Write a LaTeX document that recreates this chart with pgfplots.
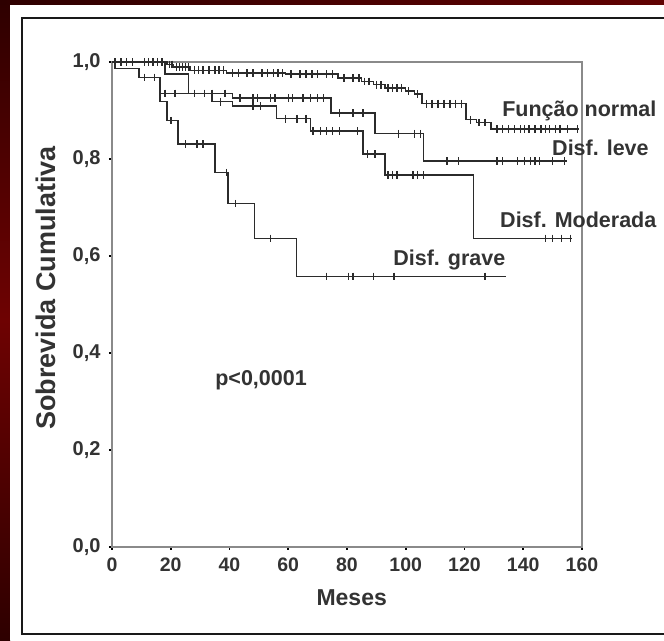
\documentclass[border=0pt]{standalone}
\usepackage{fontspec}
\setmainfont{Liberation Sans}
\usepackage{pgfplots}
\pgfplotsset{compat=1.18}

\definecolor{txt}{HTML}{333333}
\definecolor{crv}{HTML}{2B2B2B}
\definecolor{axg}{HTML}{8A8A8A}
\definecolor{bgdark}{HTML}{2E0000}
\definecolor{bgred}{HTML}{6E0202}

\begin{document}
\begin{tikzpicture}
\useasboundingbox (0pt,0pt) rectangle (664pt,640pt);
% slide background and white panel
\fill[bgdark!50!bgred] (0pt,0pt) rectangle (664pt,640pt);
\shade[top color=bgdark, bottom color=bgdark, middle color=bgred] (0pt,0pt) rectangle (10pt,640pt);
\shade[left color=bgdark, right color=bgred!80!bgdark] (0pt,635pt) rectangle (664pt,640pt);
\fill[white] (10pt,0pt) rectangle (664pt,635pt);
\draw[line width=2.5pt, black!90] (22pt,6pt) rectangle (690pt,622pt);

\begin{axis}[
    at={(112pt,93pt)}, anchor=south west,
    scale only axis, width=470pt, height=485pt,
    xmin=0, xmax=160, ymin=0, ymax=1,
    clip=false,
    axis line style={axg, line width=1.3pt},
    xtick={0,20,...,160},
    ytick={0,0.2,0.4,0.6,0.8,1},
    yticklabels={{0,0},{0,2},{0,4},{0,6},{0,8},{1,0}},
    xtick pos=bottom, ytick pos=left,
    tick align=outside, major tick length=3pt,
    tick style={black, line width=1.6pt},
    /pgf/number format/assume math mode=true,
    xticklabel style={font=\fontsize{19.5}{21}\selectfont\bfseries, text=txt, yshift=-4pt},
    yticklabel style={font=\fontsize{20}{21}\selectfont\bfseries, text=txt, xshift=-5pt},
    xlabel={Meses},
    xlabel style={at={(axis description cs:0.51,-0.105)}, anchor=center,
        font=\fontsize{23}{26}\selectfont\bfseries, text=txt},
    ylabel={Sobrevida Cumulativa},
    ylabel style={at={(axis description cs:-0.140,0.534)}, anchor=center,
        font=\fontsize{27}{30}\selectfont\bfseries, text=txt},
    every axis plot/.append style={crv, line width=1.4pt},
    mark options={line width=1.5pt},
]
% Funcao normal
\addplot[const plot, no marks] coordinates {
(0,1) (18.7,0.995) (21,0.99) (26.5,0.983) (39,0.977) (59,0.975) (77,0.967)
(85,0.96) (89,0.953) (93,0.946) (100,0.94) (103,0.934) (105.5,0.914)
(120.5,0.881) (124,0.875) (129,0.862) (159,0.862)};
% Disf. leve
\addplot[const plot, no marks] coordinates {
(0,1) (18,0.975) (26,0.935) (41,0.926) (74.5,0.895) (89.5,0.852) (106,0.796) (155,0.796)};
% Disf. moderada
\addplot[const plot, no marks] coordinates {
(0,1) (1,0.986) (9.2,0.968) (16.5,0.935) (34,0.918) (41,0.909) (56,0.883)
(67.5,0.858) (85.5,0.81) (93,0.767) (123,0.636) (156.5,0.636)};
% Disf. grave
\addplot[const plot, no marks] coordinates {
(0,1) (1,0.986) (9.2,0.968) (16.3,0.919) (18.7,0.879) (22.5,0.831) (35,0.772)
(39.5,0.708) (48.5,0.636) (62.8,0.558) (134,0.558)};

% censored observations
\addplot[only marks, mark=|, mark size=3.8pt] coordinates {
(1,1) (3,1) (5,1) (7,1) (11,1) (12.5,1) (14,1) (15.5,1) (17,1)
(19.5,0.995) (20.5,0.995) (22,0.99) (23,0.99) (24,0.99) (25,0.99) (26,0.99)
(28,0.983) (29.5,0.983) (31,0.983) (33,0.983) (35,0.983) (36.5,0.983) (38,0.983)
(41,0.977) (43,0.977) (46,0.977) (48,0.977) (51,0.977) (53,0.977) (55,0.977) (56.5,0.977) (58,0.977)
(61,0.975) (64,0.975) (66,0.975) (68,0.975) (70,0.975) (73,0.975) (75,0.975)
(79,0.967) (82,0.967) (84,0.967) (86,0.96) (87.5,0.96) (90,0.953) (91.5,0.953)
(94,0.946) (95.5,0.946) (97,0.946) (98.5,0.946) (101,0.94) (104,0.934)
(107,0.914) (109,0.914) (111,0.914) (113,0.914) (115,0.914) (117,0.914) (119,0.914)
(122,0.881) (125,0.875) (127,0.875)
(131,0.862) (133,0.862) (135,0.862) (137,0.862) (139,0.862) (140.5,0.862) (142,0.862)
(144,0.862) (146,0.862) (147.5,0.862) (149,0.862) (151,0.862) (152.5,0.862) (155,0.862) (158.5,0.862)};
\addplot[only marks, mark=|, mark size=3.8pt] coordinates {
(31.5,0.935) (34,0.935) (38.5,0.935) (43.5,0.926) (48,0.926) (49.5,0.926) (54,0.926)
(55.5,0.926) (60,0.926) (61.5,0.926) (65,0.926) (67.5,0.926) (70,0.926) (72,0.926)
(77.5,0.895) (82,0.895) (85.5,0.895) (97.5,0.852) (103,0.852) (105,0.852)
(114,0.796) (118,0.796) (131,0.796) (133,0.796) (138,0.796) (140.5,0.796) (142.5,0.796)
(144,0.796) (145.5,0.796) (150,0.796) (154,0.796)};
\addplot[only marks, mark=|, mark size=3.8pt] coordinates {
(18,0.935) (21.5,0.935) (28,0.935) (37,0.918) (48,0.909) (50.5,0.909)
(59,0.883) (63,0.883) (66,0.883) (68.5,0.858) (71,0.858) (73,0.858) (75,0.858)
(77.5,0.858) (83.5,0.858) (87,0.81) (89.5,0.81) (94,0.767) (95.5,0.767) (97,0.767)
(102.5,0.767) (104,0.767) (106,0.767) (147.5,0.636) (150,0.636) (153,0.636) (156,0.636)};
\addplot[only marks, mark=|, mark size=3.8pt] coordinates {
(11,0.968) (14.5,0.968) (20,0.879) (25,0.831) (29,0.831) (31,0.831) (39,0.772)
(42,0.708) (54,0.636) (73,0.558) (80.5,0.558) (82,0.558) (89,0.558) (96,0.558) (127,0.558)};

\node[anchor=base west, inner sep=0pt, text=txt, font=\fontsize{21.5}{24}\selectfont\bfseries]
  at (axis cs:132.8,0.887) {Função normal};
\node[anchor=base west, inner sep=0pt, text=txt, font=\fontsize{21.5}{24}\selectfont\bfseries]
  at (axis cs:149.8,0.807) {Disf. leve};
\node[anchor=base west, inner sep=0pt, text=txt, font=\fontsize{21.5}{24}\selectfont\bfseries]
  at (axis cs:132.1,0.658) {Disf. Moderada};
\node[anchor=base west, inner sep=0pt, text=txt, font=\fontsize{21.5}{24}\selectfont\bfseries]
  at (axis cs:95.7,0.580) {Disf. grave};
\node[anchor=base west, inner sep=0pt, text=txt, font=\fontsize{21.5}{24}\selectfont\bfseries]
  at (axis cs:35.1,0.333) {p<0,0001};
\end{axis}
\end{tikzpicture}
\end{document}
